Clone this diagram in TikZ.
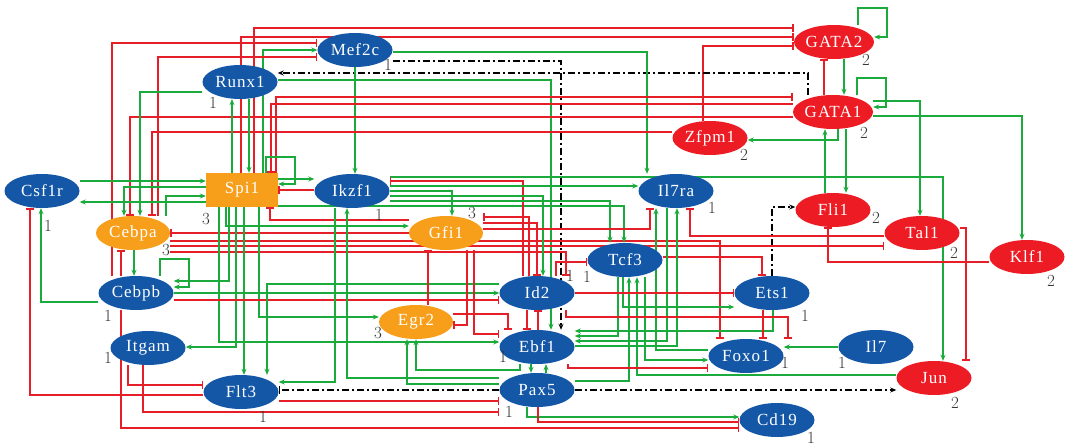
\documentclass[tikz,border=0pt]{standalone}
\usepackage{fontspec}
\usetikzlibrary{arrows.meta,shapes.geometric,backgrounds}
\newfontfamily\genefont[LetterSpace=6]{Liberation Serif}
\definecolor{c1357a6}{RGB}{19,87,166}
\definecolor{ced1c24}{RGB}{237,28,36}
\definecolor{cf79f1a}{RGB}{247,159,26}
\definecolor{c1baa3c}{RGB}{27,170,60}
\definecolor{ce61e28}{RGB}{230,30,40}

\tikzset{
  act/.style={draw=c1baa3c,line width=1.4pt,-{Stealth[length=6pt,width=5pt]}},
  inh/.style={draw=ce61e28,line width=1.4pt,-{Bar[width=8pt]}},
  dashact/.style={draw=black,line width=1.4pt,dash pattern=on 7pt off 3pt on 2pt off 3pt,-{Stealth[length=6pt,width=5pt]}},
}

\begin{document}
\begin{tikzpicture}[x=1pt,y=-1pt]

\useasboundingbox (0,0) rectangle (1065,446);

\begin{scope}[every node/.style={ellipse,minimum width=75pt,minimum height=34pt,inner sep=0pt,fill=c1357a6,text=white,font=\genefont\fontsize{17}{17}\selectfont}]
\node (Mef2c) at (355,50) {Mef2c};
\node (Runx1) at (240,82) {Runx1};
\node (Csf1r) at (42,191) {Csf1r};
\node (Ikzf1) at (352,191) {Ikzf1};
\node (Il7ra) at (676,191) {Il7ra};
\node (Tcf3) at (625,260) {Tcf3};
\node (Cebpb) at (136,293) {Cebpb};
\node (Id2) at (537,293) {Id2};
\node (Ets1) at (772,293) {Ets1};
\node (Ebf1) at (537,347) {Ebf1};
\node (Itgam) at (148,348) {Itgam};
\node (Foxo1) at (746,356) {Foxo1};
\node (Il7) at (876,347) {Il7};
\node (Flt3) at (241,392) {Flt3};
\node (Pax5) at (537,390) {Pax5};
\node (Cd19) at (777,420) {Cd19};
\end{scope}

\begin{scope}[every node/.style={ellipse,minimum width=75pt,minimum height=34pt,inner sep=0pt,fill=ced1c24,text=white,font=\genefont\fontsize{17}{17}\selectfont}]
\node (GATA2) at (834,42) {GATA2};
\node (GATA1) at (833,112) {GATA1};
\node (Zfpm1) at (710,138) {Zfpm1};
\node (Fli1) at (833,210) {Fli1};
\node (Tal1) at (922,233) {Tal1};
\node (Klf1) at (1027,257) {Klf1};
\node (Jun) at (934,378) {Jun};
\end{scope}

\begin{scope}[every node/.style={ellipse,minimum width=74pt,minimum height=34pt,inner sep=0pt,fill=cf79f1a,text=white,font=\genefont\fontsize{17}{17}\selectfont}]
\node (Cebpa) at (133,233) {Cebpa};
\node (Gfi1) at (446,233) {Gfi1};
\node (Egr2) at (416,322) {Egr2};
\node[rectangle,minimum width=72pt] (Spi1) at (242,190) {Spi1};
\end{scope}

% levels
\begin{scope}[every node/.style={text=black!80,font=\fontsize{17}{17}\selectfont,inner sep=0pt}]
\node (nMef2c) at (388,65) {1};
\node (nRunx1) at (213,103) {1};
\node (nGATA2) at (866,60) {2};
\node (nGATA1) at (864,133) {2};
\node (nZfpm1) at (744,155) {2};
\node (nCsf1r) at (48,226) {1};
\node (nSpi1) at (206,219) {3};
\node (nIkzf1) at (379,215) {1};
\node (nIl7ra) at (712,208) {1};
\node (nFli1) at (876,218) {2};
\node (nTal1) at (954,253) {2};
\node (nKlf1) at (1051,281) {2};
\node (nCebpa) at (166,250) {3};
\node (nGfi1) at (472,213) {3};
\node (nId2) at (570,276) {1};
\node (nTcf3) at (587,277) {1};
\node (nCebpb) at (108,316) {1};
\node (nItgam) at (108,358) {1};
\node (nEgr2) at (378,333) {3};
\node (nEbf1) at (503,357) {1};
\node (nEts1) at (805,316) {1};
\node (nFoxo1) at (785,363) {1};
\node (nIl7) at (842,363) {1};
\node (nJun) at (955,403) {2};
\node (nFlt3) at (263,417) {1};
\node (nPax5) at (509,412) {1};
\node (nCd19) at (811,438) {1};
\end{scope}

\begin{scope}[on background layer]
% top rows
\draw[inh] (Spi1.north -| 254,0) |- (GATA2.west |- 0,28);
\draw[inh] (Spi1.north -| 241,0) |- (GATA2.west |- 0,37);
\draw[inh] (Zfpm1.north -| 703,0) |- (GATA2.west |- 0,46);
\draw[inh] (Cebpb.north -| 112,0) |- (Mef2c.west |- 0,43);
\draw[act] (Spi1.north -| 263,0) |- (Mef2c.west |- 0,50);
\draw[inh] (Cebpa.north -| 158,0) |- (Mef2c.west |- 0,57);
\draw[dashact] (GATA1.north -| 808,0) |- (Runx1.east |- 0,73);
\draw[dashact] (Mef2c.east |- 0,61) -| (Ebf1.north -| 561,0);
\draw[act] (Mef2c.east |- 0,52) -| (Il7ra.north -| 647,0);
\draw[act] (Mef2c.south) -- (Ikzf1.north -| Mef2c.south);
\draw[act] (Runx1.east |- 0,80) -| (Ebf1.north -| 551,0);
\draw[inh] (Spi1.north -| 276,0) |- (GATA1.west |- 0,97);
\draw[inh] (GATA1.west |- 0,104) -| (Spi1.north -| 271,0);
\draw[inh] (GATA1.west |- 0,117) -| (Cebpa.north -| 130,0);
\draw[inh] (Zfpm1.west |- 0,132) -| (Cebpa.north -| 152,0);
\draw[act] (Spi1.north -| 232,0) -- (Runx1.south -| 232,0);
\draw[act] (Runx1.south -| 249,0) -- (Spi1.north -| 249,0);
\draw[act] (Spi1.north -| 266,0) |- (295,157) |- (Spi1.east |- 0,184);
\draw[act] (Runx1.west |- 0,92) -| (Cebpa.north -| 140,0);
\draw[act] (Spi1.west |- 0,187) -| (Cebpa.north -| 124,0);
\draw[act] (Csf1r.east |- 0,181) -- (Spi1.west |- 0,181);
\draw[act] (Spi1.west |- 0,202) -- (Csf1r.east |- 0,202);
\draw[act] (Cebpa.north -| 166,0) |- (Spi1.west |- 0,196);

% GATA block
\draw[act] (GATA2.north -| 858,0) |- (887,8) |- (GATA2.east |- 0,37);
\draw[act] (GATA1.north -| 857,0) |- (886,78) |- (GATA1.east |- 0,107);
\draw[act] (GATA2.south -| 844,0) -- (GATA1.north -| 844,0);
\draw[inh] (GATA1.north -| 824,0) -- (GATA2.south -| 824,0);
\draw[act] (GATA1.south -| 838,0) |- (Zfpm1.east |- 0,140);
\draw[act] (Fli1.north -| 825,0) -- (GATA1.south -| 825,0);
\draw[act] (GATA1.south -| 846,0) -- (Fli1.north -| 846,0);
\draw[act] (GATA1.east |- 0,101) -| (Tal1.north -| 920,0);
\draw[act] (GATA1.east |- 0,116) -| (Klf1.north -| 1022,0);
\draw[act] (Ikzf1.east |- 0,177) -| (Jun.north -| 943,0);
\draw[dashact] (Ets1.north -| 772,0) |- (Fli1.west |- 0,207);
\draw[inh] (Tal1.east |- 0,228) -| (Jun.north -| 966,0);
\draw[inh] (Klf1.west |- 0,262) -| (Fli1.south -| 828,0);

% Spi1, Ikzf1, Gfi1
\draw[inh] (Gfi1.west |- 0,233) -- (Cebpa.east |- 0,233);
\draw[act] (Spi1.south -| 226,0) |- (Gfi1.west |- 0,226);
\draw[inh] (Gfi1.west |- 0,220) -| (Spi1.south -| 270,0);
\draw[inh] (Cebpa.east |- 0,241) -| (Foxo1.north -| 720,0);
\draw[inh] (Cebpa.east |- 0,246) -- (Tal1.west |- 0,246);
\draw[inh] (Cebpa.east |- 0,252) -| (Id2.north -| 566,0);
\draw[act] (Spi1.east |- 0,179) -- (Ikzf1.west |- 0,179);
\draw[inh] (Ikzf1.west |- 0,190) -- (Spi1.east |- 0,190);
\draw[act] (Spi1.east |- 0,206) -| (Tcf3.north -| 624,0);
\draw[inh] (Id2.north -| 523,0) |- (Ikzf1.east |- 0,181);
\draw[act] (Ikzf1.east |- 0,186) -- (Il7ra.west |- 0,186);
\draw[act] (Ikzf1.east |- 0,191) -| (Gfi1.north -| 452,0);
\draw[act] (Ikzf1.east |- 0,196) -| (Id2.north -| 543,0);
\draw[act] (Ikzf1.east |- 0,201) -| (Tcf3.north -| 610,0);
\draw[inh] (Id2.north -| 529,0) |- (Gfi1.east |- 0,217);
\draw[inh] (Gfi1.east |- 0,223) -| (Id2.north -| 537,0);
\draw[inh] (Gfi1.east |- 0,229) -| (Il7ra.south -| 650,0);
\draw[inh] (Tal1.west |- 0,236) -| (Il7ra.south -| 690,0);
\draw[inh] (Id2.north -| 556,0) |- (Tcf3.west |- 0,262);
\draw[inh] (Tcf3.east |- 0,257) -| (Ets1.north -| 762,0);

% Cebpa, Cebpb, Itgam, Flt3
\draw[act] (Cebpa.south -| 134,0) -- (Cebpb.north -| 134,0);
\draw[inh] (Cebpb.north -| 121,0) -- (Cebpa.south -| 121,0);
\draw[act] (Cebpb.north -| 160,0) |- (189,259) |- (Cebpb.east |- 0,287);
\draw[act] (Cebpb.west |- 0,302) -| (Csf1r.south -| 41,0);
\draw[inh] (Flt3.west |- 0,395) -| (Csf1r.south -| 30,0);
\draw[act] (Spi1.south -| 229,0) |- (Cebpb.east |- 0,281);
\draw[act] (Spi1.south -| 236,0) |- (Itgam.east |- 0,347);
\draw[act] (Spi1.south -| 244,0) -- (Flt3.north -| 244,0);
\draw[act] (Spi1.south -| 259,0) |- (Egr2.west |- 0,317);
\draw[act] (Spi1.south -| 219,0) |- (Ebf1.west |- 0,342);
\draw[act] (Cebpb.east |- 0,293) -- (Id2.west |- 0,293);
\draw[inh] (Cebpb.east |- 0,300) -- (Id2.west |- 0,300);
\draw[act] (Id2.west |- 0,284) -| (Flt3.north -| 267,0);
\draw[act] (Ikzf1.south -| 335,0) |- (Flt3.east |- 0,382);
\draw[act] (Pax5.west |- 0,378) -| (Ikzf1.south -| 347,0);
\draw[dashact,-{Bar[width=8pt]}] (Pax5.west |- 0,390) -- (Flt3.east |- 0,390);
\draw[inh] (Flt3.east |- 0,401) -- (Pax5.west |- 0,401);
\draw[inh] (Itgam.south -| 143,0) |- (Pax5.west |- 0,412);
\draw[inh] (Itgam.south -| 128,0) |- (Flt3.west |- 0,385);
\draw[inh] (Cebpb.south -| 121,0) |- (Cd19.west |- 0,428);

% Pax5, Ebf1, Tcf3, Ets1, Foxo1
\draw[act] (Pax5.south -| 527,0) |- (Cd19.west |- 0,417);
\draw[inh] (Pax5.south -| 538,0) |- (Cd19.west |- 0,422);
\draw[dashact] (Pax5.east |- 0,390) -- (Jun.west |- 0,390);
\draw[act] (Pax5.east |- 0,381) -| (Tcf3.south -| 629,0);
\draw[act] (Jun.west |- 0,375) -| (Tcf3.south -| 637,0);
\draw[act] (Tcf3.south -| 645,0) |- (Foxo1.west |- 0,360);
\draw[act] (Tcf3.south -| 618,0) |- (Ebf1.east |- 0,336);
\draw[act] (Il7ra.south -| 667,0) |- (Ebf1.east |- 0,341);
\draw[act] (Ebf1.east |- 0,346) -| (Il7ra.south -| 677,0);
\draw[act] (Foxo1.west |- 0,350) -| (Il7ra.south -| 656,0);
\draw[act] (Ets1.south -| 773,0) |- (Ebf1.east |- 0,331);
\draw[act] (Tcf3.south -| 623,0) |- (Ets1.west |- 0,307);
\draw[inh] (Id2.east |- 0,293) -- (Ets1.west |- 0,293);
\draw[inh] (Ets1.south -| 763,0) -- (Foxo1.north -| 763,0);
\draw[inh] (Id2.south -| 566,0) |- (788,317) -- (Foxo1.north -| 788,0);
\draw[inh] (Ebf1.south -| 568,0) |- (Foxo1.west |- 0,368);
\draw[act] (Il7.west) -- (Foxo1.east |- Il7.west);

% Egr2
\draw[inh] (Gfi1.south -| 467,0) |- (Egr2.east |- 0,325);
\draw[inh] (Egr2.north -| 428,0) -- (Gfi1.south -| 428,0);
\draw[inh] (Egr2.east |- 0,314) -| (Ebf1.north -| 508,0);
\draw[inh] (Gfi1.south -| 474,0) |- (Ebf1.west |- 0,334);
\draw[act] (Pax5.west |- 0,384) -| (Egr2.south -| 407,0);
\draw[act] (Ebf1.south -| 520,0) |- (416,370) -- (Egr2.south -| 416,0);
\draw[act] (Ebf1.south -| 531,0) -- (Pax5.north -| 531,0);
\draw[act] (Pax5.north -| 546,0) -- (Ebf1.south -| 546,0);
\draw[inh] (Id2.south -| 527,0) -- (Ebf1.north -| 527,0);
\draw[inh] (Ebf1.north -| 538,0) -- (Id2.south -| 538,0);
\end{scope}

\end{tikzpicture}
\end{document}
